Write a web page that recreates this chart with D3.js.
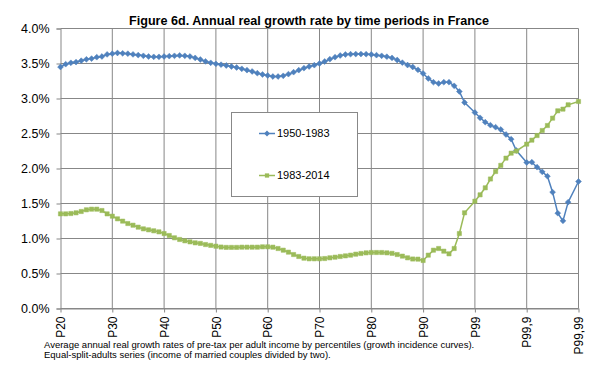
<!DOCTYPE html>
<html>
<head>
<meta charset="utf-8">
<script src="https://cdn.jsdelivr.net/npm/d3@7"></script>
<style>
  body { margin: 0; background: #fff; }
  svg { display: block; font-family: "Liberation Sans", Arial, sans-serif; }
</style>
</head>
<body>
<svg id="chart" width="614" height="389"></svg>
<script>
// category positions 0..100; 79, 89 and 99 are empty rows in the sheet
const tickIndex = [0, 10, 20, 30, 40, 50, 60, 70, 80, 90, 100];
const tickLabels = ["P20", "P30", "P40", "P50", "P60", "P70", "P80", "P90", "P99", "P99,9", "P99,99"];
const yTicks = [0, 0.5, 1, 1.5, 2, 2.5, 3, 3.5, 4];
const seriesNames = ["1950-1983", "1983-2014"];

const growth1950 = [
  3.45, 3.49, 3.51, 3.52, 3.54, 3.56, 3.57, 3.59, 3.60, 3.63,
  3.64, 3.65, 3.645, 3.64, 3.63, 3.62, 3.61, 3.60, 3.595, 3.595,
  3.60, 3.605, 3.61, 3.615, 3.61, 3.60, 3.58, 3.557, 3.53, 3.51,
  3.495, 3.483, 3.471, 3.457, 3.443, 3.424, 3.405, 3.386, 3.362, 3.343,
  3.329, 3.314, 3.314, 3.324, 3.348, 3.376, 3.405, 3.433, 3.457, 3.476,
  3.50, 3.529, 3.562, 3.59, 3.614, 3.629, 3.633, 3.635, 3.635, 3.633,
  3.629, 3.619, 3.61, 3.597, 3.58, 3.55, 3.512, 3.478, 3.45, 3.41,
  3.357, 3.286, 3.233, 3.214, 3.233, 3.233, 3.181, 3.10, 2.943, null,
  2.80, 2.724, 2.662, 2.619, 2.59, 2.557, 2.486, 2.419, 2.257, null,
  2.086, 2.09, 2.019, 1.952, 1.89, 1.662, 1.362, 1.252, 1.519, null,
  1.814
];

const growth1983 = [
  1.352, 1.352, 1.357, 1.367, 1.386, 1.41, 1.419, 1.419, 1.40, 1.352,
  1.319, 1.281, 1.248, 1.214, 1.19, 1.162, 1.138, 1.124, 1.11, 1.095,
  1.071, 1.043, 1.01, 0.986, 0.967, 0.952, 0.938, 0.93, 0.914, 0.902,
  0.89, 0.878, 0.873, 0.873, 0.873, 0.876, 0.876, 0.876, 0.876, 0.881,
  0.881, 0.876, 0.857, 0.833, 0.805, 0.771, 0.743, 0.719, 0.71, 0.71,
  0.71, 0.714, 0.724, 0.733, 0.743, 0.752, 0.762, 0.776, 0.786, 0.795,
  0.80, 0.80, 0.80, 0.795, 0.788, 0.771, 0.748, 0.724, 0.707, 0.705,
  0.686, 0.762, 0.833, 0.857, 0.819, 0.781, 0.857, 1.071, 1.367, null,
  1.533, 1.624, 1.724, 1.85, 1.957, 2.045, 2.148, 2.219, 2.25, null,
  2.348, 2.405, 2.471, 2.543, 2.614, 2.719, 2.824, 2.848, 2.91, null,
  2.957
];

const colors = ["#4f81bd", "#9bbb59"];
const gridColor = "#878787";

const svg = d3.select("#chart");
svg.append("rect").attr("width", 614).attr("height", 389).attr("fill", "#fff");

const x = d3.scaleLinear().domain([0, 100]).range([60.5, 578.5]);
const y = d3.scaleLinear().domain([0, 4]).range([308.5, 28.5]);

// title
svg
  .append("text")
  .attr("x", 309)
  .attr("y", 24.5)
  .attr("text-anchor", "middle")
  .attr("font-weight", "bold")
  .attr("font-size", 12.6)
  .attr("fill", "#000")
  .text("Figure 6d. Annual real growth rate by time periods in France");

// gridlines
const grid = svg.append("g").attr("stroke", gridColor).attr("stroke-width", 1);
grid
  .selectAll("line.h")
  .data(yTicks)
  .join("line")
  .attr("class", "h")
  .attr("x1", x(0))
  .attr("x2", x(100))
  .attr("y1", (d) => y(d))
  .attr("y2", (d) => y(d));
grid
  .selectAll("line.v")
  .data(tickIndex.slice(1))
  .join("line")
  .attr("class", "v")
  .attr("x1", (d) => x(d))
  .attr("x2", (d) => x(d))
  .attr("y1", y(4))
  .attr("y2", y(0));

// y axis
const yAxis = svg
  .append("g")
  .attr("transform", `translate(${x(0)},0)`)
  .call(
    d3
      .axisLeft(y)
      .tickValues(yTicks)
      .tickSize(4)
      .tickPadding(7)
      .tickFormat((d) => d3.format(".1f")(d) + "%")
  );
yAxis.select(".domain").attr("stroke", gridColor);
yAxis.selectAll(".tick line").attr("stroke", gridColor);
yAxis
  .selectAll(".tick text")
  .attr("font-size", 12.5)
  .attr("font-family", "Liberation Sans, Arial, sans-serif")
  .attr("fill", "#000");

// x axis
const xAxis = svg
  .append("g")
  .attr("transform", `translate(0,${y(0)})`)
  .call(
    d3
      .axisBottom(x)
      .tickValues(tickIndex)
      .tickSize(4)
      .tickSizeOuter(0)
      .tickFormat((d, i) => tickLabels[i])
  );
xAxis.select(".domain").attr("stroke", gridColor);
xAxis.selectAll(".tick line").attr("stroke", gridColor);
xAxis
  .selectAll(".tick text")
  .attr("font-size", 12)
  .attr("font-family", "Liberation Sans, Arial, sans-serif")
  .attr("fill", "#000")
  .attr("transform", "rotate(-90)")
  .attr("text-anchor", "end")
  .attr("x", -8)
  .attr("y", 0)
  .attr("dy", "0.35em");

// series
const series = [growth1950, growth1983].map((vals, k) => ({
  name: seriesNames[k],
  color: colors[k],
  points: vals.map((v, i) => ({ i, v })).filter((d) => d.v !== null),
}));

const line = d3
  .line()
  .x((d) => x(d.i))
  .y((d) => y(d.v));

const diamond = d3.symbol().type(d3.symbolSquare).size(17);
const square = d3.symbol().type(d3.symbolSquare).size(18);

series.forEach((s, k) => {
  const g = svg.append("g");
  g.append("path")
    .attr("d", line(s.points))
    .attr("fill", "none")
    .attr("stroke", s.color)
    .attr("stroke-width", 1.5);
  g.selectAll("path.m")
    .data(s.points)
    .join("path")
    .attr("class", "m")
    .attr("d", k === 0 ? diamond : square)
    .attr("transform", (d) =>
      `translate(${x(d.i)},${y(d.v)})` + (k === 0 ? " rotate(45)" : "")
    )
    .attr("fill", s.color)
    .attr("stroke", s.color)
    .attr("stroke-width", 0.5);
});

// legend
const legend = svg.append("g");
legend
  .append("rect")
  .attr("x", 231.5)
  .attr("y", 112.5)
  .attr("width", 126)
  .attr("height", 84)
  .attr("fill", "#fff")
  .attr("stroke", "#888");
const items = legend
  .selectAll("g.item")
  .data(series)
  .join("g")
  .attr("class", "item")
  .attr("transform", (d, k) => `translate(0,${k === 0 ? 133.5 : 175.5})`);
items
  .append("line")
  .attr("x1", 259)
  .attr("x2", 275)
  .attr("stroke", (d) => d.color)
  .attr("stroke-width", 1.5);
items
  .append("path")
  .attr("d", (d, k) => (k === 0 ? diamond() : square()))
  .attr("transform", (d, k) => `translate(267,0)` + (k === 0 ? " rotate(45)" : ""))
  .attr("fill", (d) => d.color);
items
  .append("text")
  .attr("x", 277)
  .attr("dy", "0.36em")
  .attr("font-size", 11)
  .attr("fill", "#000")
  .text((d) => d.name);

// caption
svg
  .append("text")
  .attr("font-size", 9.5)
  .attr("fill", "#000")
  .selectAll("tspan")
  .data([
    "Average annual real growth rates of pre-tax per adult income by percentiles (growth incidence curves).",
    "Equal-split-adults series (income of married couples divided by two).",
  ])
  .join("tspan")
  .attr("x", 44)
  .attr("y", (d, i) => 347.5 + i * 10.7)
  .text((d) => d);
</script>
</body>
</html>
